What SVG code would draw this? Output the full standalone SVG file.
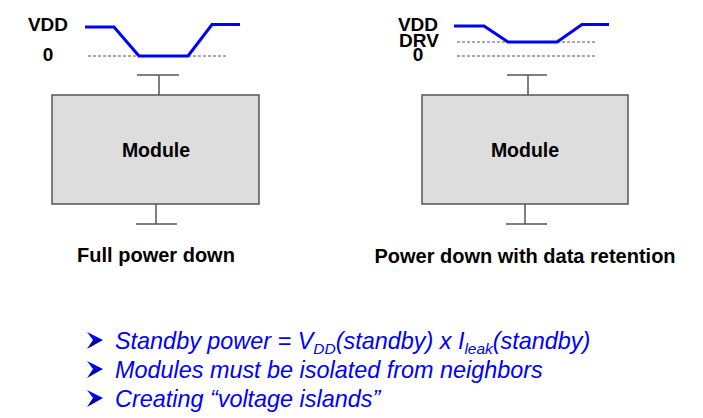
<svg xmlns="http://www.w3.org/2000/svg" width="703" height="418" viewBox="0 0 703 418">
<style>
.lbl{font-family:"Liberation Sans",Arial,sans-serif;font-weight:bold;fill:#000;}
.wave{fill:none;stroke:#0000FF;stroke-width:3;stroke-linejoin:miter;}
.dash{stroke:#555;stroke-width:1;stroke-dasharray:3,2;fill:none;}
.box{fill:#DDDDDD;stroke:#555;stroke-width:1.5;}
.tick{stroke:#555;stroke-width:1.5;fill:none;}
.bul{font-family:"Liberation Sans",Arial,sans-serif;font-style:italic;font-size:23.4px;fill:#0000FF;}
.arr{fill:#0000FF;}
.arr2{fill:#0000AA;}
</style>
<rect width="703" height="418" fill="#FFFFFF"/>
<g id="left-waveform">
<line class="dash" x1="88" y1="56" x2="228" y2="56"/>
<polyline class="wave" points="85,27 114,27 139,56 188,56 212,24.5 240,24.5"/>
<text class="lbl" x="48" y="31" font-size="19" text-anchor="middle">VDD</text>
<text class="lbl" x="48" y="61" font-size="19" text-anchor="middle">0</text>
</g>
<g id="right-waveform">
<line class="dash" x1="457" y1="42" x2="597" y2="42"/>
<line class="dash" x1="457" y1="56" x2="597" y2="56"/>
<polyline class="wave" points="454,26 484,26 508,42 557,42 582,24.5 609,24.5"/>
<text class="lbl" x="418" y="31" font-size="19" text-anchor="middle">VDD</text>
<text class="lbl" x="419" y="47" font-size="19" text-anchor="middle">DRV</text>
<text class="lbl" x="418" y="61" font-size="19" text-anchor="middle">0</text>
</g>
<g id="connectors">
<polyline class="tick" points="137,75 179,75"/>
<line class="tick" x1="159" y1="75" x2="159" y2="95"/>
<line class="tick" x1="156" y1="204" x2="156" y2="224"/>
<polyline class="tick" points="136,224 177,224"/>
<polyline class="tick" points="507,75 547,75"/>
<line class="tick" x1="528" y1="75" x2="528" y2="95"/>
<line class="tick" x1="525" y1="204" x2="525" y2="224"/>
<polyline class="tick" points="506,224 547,224"/>
</g>
<g id="module-left">
<rect class="box" x="52" y="95" width="207" height="109"/>
<text class="lbl" x="156" y="157" font-size="19.5" text-anchor="middle">Module</text>
</g>
<g id="module-right">
<rect class="box" x="422" y="95" width="206" height="109"/>
<text class="lbl" x="525" y="157" font-size="19.5" text-anchor="middle">Module</text>
</g>
<g id="captions">
<text class="lbl" x="156" y="262" font-size="20" text-anchor="middle">Full power down</text>
<text class="lbl" x="525" y="263" font-size="20" text-anchor="middle">Power down with data retention</text>
</g>
<g id="bullets">
<polygon class="arr" points="87,332 103,340 93,340"/>
<polygon class="arr2" points="87,349 103,340 93,340"/>
<polygon class="arr" points="87,361 103,369 93,369"/>
<polygon class="arr2" points="87,378 103,369 93,369"/>
<polygon class="arr" points="87,390 103,398 93,398"/>
<polygon class="arr2" points="87,407 103,398 93,398"/>
<text class="bul" x="115" y="349">Standby power = V<tspan font-size="15.5" dy="5">DD</tspan><tspan dy="-5">(standby) x I</tspan><tspan font-size="15.5" dy="5">leak</tspan><tspan dy="-5">(standby)</tspan></text>
<text class="bul" x="115" y="378">Modules must be isolated from neighbors</text>
<text class="bul" x="115" y="407">Creating “voltage islands”</text>
</g>
</svg>
